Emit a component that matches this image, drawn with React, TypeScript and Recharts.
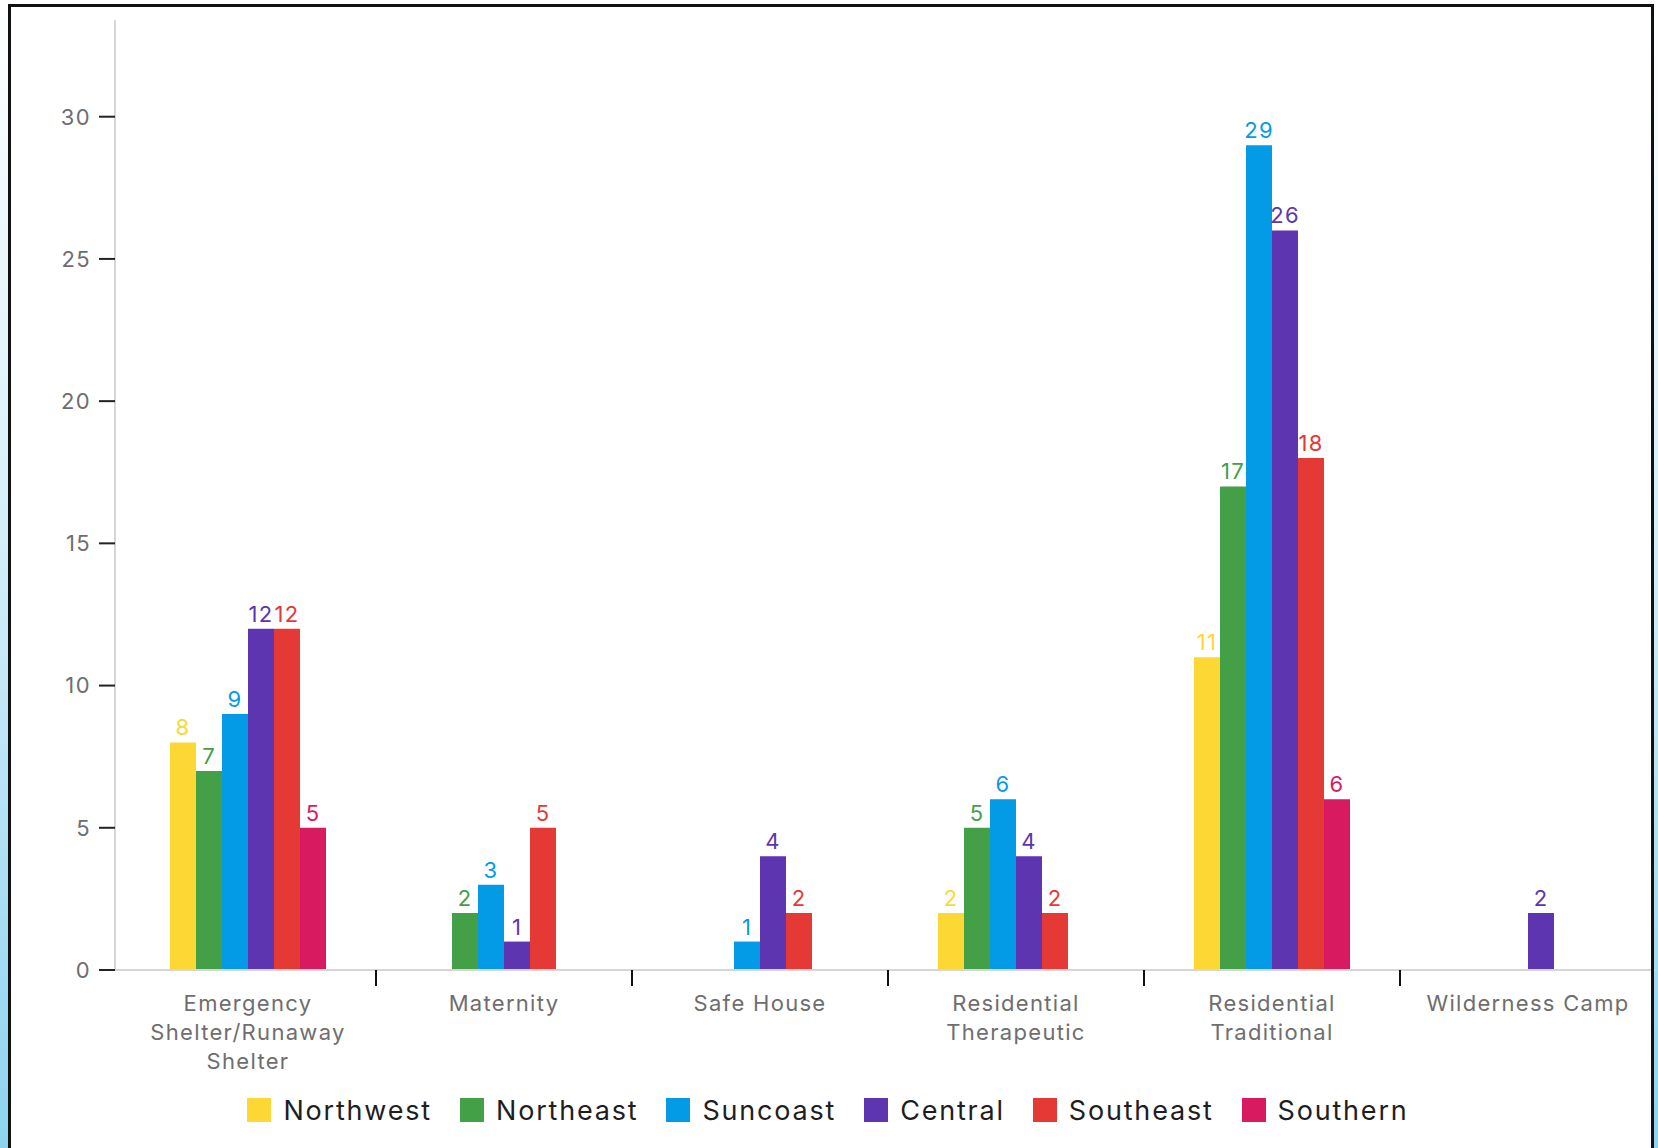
import React from 'react';
import { BarChart, Bar, XAxis, YAxis, Legend, LabelList } from 'recharts';

const categories = [
  'Emergency Shelter/Runaway Shelter',
  'Maternity',
  'Safe House',
  'Residential Therapeutic',
  'Residential Traditional',
  'Wilderness Camp',
];

// how each category label breaks onto lines
const categoryLines = [
  ['Emergency', 'Shelter/Runaway', 'Shelter'],
  ['Maternity'],
  ['Safe House'],
  ['Residential', 'Therapeutic'],
  ['Residential', 'Traditional'],
  ['Wilderness Camp'],
];

const northwest = [8, null, null, 2, 11, null];
const northeast = [7, 2, null, 5, 17, null];
const suncoast = [9, 3, 1, 6, 29, null];
const central = [12, 1, 4, 4, 26, 2];
const southeast = [12, 5, 2, 2, 18, null];
const southern = [5, null, null, null, 6, null];

const yTicks = [0, 5, 10, 15, 20, 25, 30];

const series = [
  { key: 'Northwest', values: northwest, color: '#FDD835' },
  { key: 'Northeast', values: northeast, color: '#43A047' },
  { key: 'Suncoast', values: suncoast, color: '#039BE5' },
  { key: 'Central', values: central, color: '#5E35B1' },
  { key: 'Southeast', values: southeast, color: '#E53935' },
  { key: 'Southern', values: southern, color: '#D81B60' },
];

const chartData = categories.map((name, i) => {
  const row: Record<string, any> = { name };
  series.forEach(s => {
    row[s.key] = s.values[i];
  });
  return row;
});

const FONT = 'Inter, "Noto Sans", sans-serif';
const BAND = 256;

const CategoryTick = (props: any) => {
  const { x, y, index } = props;
  const lines = categoryLines[index] || [];
  return (
    <g>
      {index > 0 && (
        <line x1={x - BAND / 2} x2={x - BAND / 2} y1={y} y2={y + 16} stroke="#111" strokeWidth={2} />
      )}
      <text
        x={x}
        y={y}
        textAnchor="middle"
        fill="#6e6e6e"
        fontSize={22}
        letterSpacing={1.3}
        fontFamily={FONT}
      >
        {lines.map((l, i) => (
          <tspan key={i} x={x} dy={i === 0 ? 41 : 29}>
            {l}
          </tspan>
        ))}
      </text>
    </g>
  );
};

// legend keeps the series order (recharts would sort it otherwise)
const LegendContent = () => (
  <div style={{ display: 'flex', justifyContent: 'center', alignItems: 'center', height: 36, gap: 28, fontFamily: FONT }}>
    {series.map(s => (
      <div key={s.key} style={{ display: 'flex', alignItems: 'center' }}>
        <span style={{ display: 'inline-block', width: 24, height: 24, background: s.color, marginRight: 12 }} />
        <span style={{ fontSize: 27, letterSpacing: 1.8, color: '#1e1e1e' }}>{s.key}</span>
      </div>
    ))}
  </div>
);

const App: React.FC = () => {
  return (
    <div
      style={{
        position: 'relative',
        width: 1658,
        height: 1148,
        overflow: 'hidden',
        background: 'linear-gradient(#ffffff 0%, #d6effa 45%, #8dd3f0 100%)',
        fontFamily: FONT,
      }}
    >
      <style>{'body{margin:0}'}</style>
      <div style={{ position: 'absolute', left: 8, top: 4, width: 1646, height: 1200, background: '#fff' }} />
      <div style={{ position: 'absolute', left: 0, top: 0 }}>
        <BarChart
          width={1658}
          height={1148}
          data={chartData}
          barSize={26}
          barGap={0}
          margin={{ top: 20, right: 2, left: 0, bottom: 20 }}
        >
          <XAxis
            dataKey="name"
            interval={0}
            height={122}
            padding={{ left: 5, right: 0 }}
            tickLine={false}
            tickSize={0}
            tickMargin={0}
            axisLine={{ stroke: '#d6d6d6', strokeWidth: 2 }}
            tick={<CategoryTick />}
          />
          <YAxis
            width={115}
            domain={[0, 33.4]}
            ticks={yTicks}
            interval={0}
            tickSize={16}
            tickMargin={8}
            tickLine={{ stroke: '#222', strokeWidth: 2 }}
            axisLine={{ stroke: '#d6d6d6', strokeWidth: 2 }}
            tick={{ fill: '#6e6e6e', fontSize: 22, fontFamily: FONT, letterSpacing: 1.4 }}
          />
          <Legend verticalAlign="bottom" content={<LegendContent />} />
          {series.map(s => (
            <Bar key={s.key} dataKey={s.key} fill={s.color} isAnimationActive={false}>
              <LabelList
                dataKey={s.key}
                position="top"
                offset={7}
                fill={s.color}
                fontSize={22}
                letterSpacing={1.2}
                fontFamily={FONT}
              />
            </Bar>
          ))}
        </BarChart>
      </div>
      <div
        style={{
          position: 'absolute',
          left: 8,
          top: 4,
          width: 1646,
          height: 1200,
          border: '3px solid #111',
          boxSizing: 'border-box',
          pointerEvents: 'none',
        }}
      />
    </div>
  );
};

export default App;
